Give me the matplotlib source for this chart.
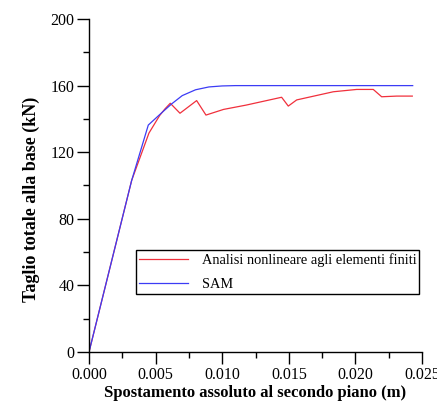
import matplotlib
matplotlib.use("Agg")
import matplotlib.pyplot as plt
from matplotlib.ticker import MultipleLocator, FormatStrFormatter

plt.rcParams['font.family'] = ['Liberation Serif', 'DejaVu Serif']

# Data
fem_x = [0.0, 0.0032, 0.0045, 0.0053, 0.0057, 0.0061, 0.00683, 0.00808, 0.00878, 0.0101,
         0.0118, 0.01446, 0.01496, 0.01559, 0.01834, 0.0201, 0.02134, 0.02197, 0.0231, 0.02427]
fem_y = [0, 103, 131.5, 142, 146, 149.4, 143.4, 151, 142.3, 145.7,
         148.3, 153, 147.7, 151.4, 156.3, 157.7, 157.7, 153.3, 153.7, 153.7]

sam_x = [0.0, 0.0032, 0.00445, 0.0055, 0.0062, 0.007, 0.008, 0.009, 0.010, 0.011, 0.0243]
sam_y = [0, 103, 136.3, 144, 149, 154, 157.5, 159.2, 159.8, 160, 160]

label_fem = "Analisi nonlineare agli elementi finiti"
label_sam = "SAM"
xlabel = "Spostamento assoluto al secondo piano (m)"
ylabel = "Taglio totale alla base (kN)"

fig = plt.figure(figsize=(4.37, 4.08), dpi=100)
ax = fig.add_axes([0.2037, 0.1373, 0.7620, 0.8161])

ax.plot(fem_x, fem_y, color='#f0303c', lw=0.9, label=label_fem)
ax.plot(sam_x, sam_y, color='#3c3cf5', lw=0.9, label=label_sam)

ax.set_xlim(0, 0.025)
ax.set_ylim(0, 200)
ax.xaxis.set_major_locator(MultipleLocator(0.005))
ax.xaxis.set_minor_locator(MultipleLocator(0.0025))
ax.xaxis.set_major_formatter(FormatStrFormatter('%.3f'))
ax.yaxis.set_major_locator(MultipleLocator(40))
ax.yaxis.set_minor_locator(MultipleLocator(20))

for s in ['top', 'right']:
    ax.spines[s].set_visible(False)
for s in ['left', 'bottom']:
    ax.spines[s].set_linewidth(1.0)
ax.tick_params(which='major', direction='out', length=8.5, width=1.0, labelsize=11.5, pad=2)
ax.tick_params(which='minor', direction='out', length=4, width=1.0)

ax.set_xlabel(xlabel, fontsize=12, fontweight='bold', labelpad=2)
ax.set_ylabel(ylabel, fontsize=13, fontweight='bold', labelpad=6)
ax.yaxis.set_label_coords(-0.148, 0.458)

leg = ax.legend(loc='upper left', bbox_to_anchor=(0.141, 0.306, 0.849, 0.0), mode='expand',
                frameon=True, fancybox=False, edgecolor='black', framealpha=1,
                fontsize=10.4, handlelength=3.4, borderaxespad=0, handletextpad=0.95,
                labelspacing=0.75, borderpad=0.2)
leg.get_frame().set_linewidth(1.0)

fig.savefig('out.png', dpi=100)
